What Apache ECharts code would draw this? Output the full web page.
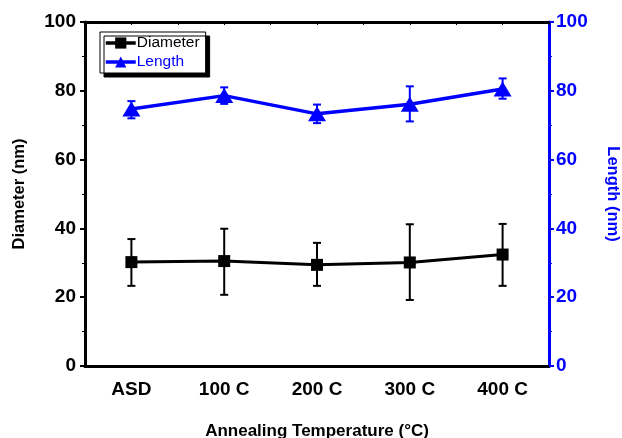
<!DOCTYPE html>
<html>
<head>
<meta charset="utf-8">
<script src="https://cdn.jsdelivr.net/npm/echarts@6/dist/echarts.min.js"></script>
<style>html,body{margin:0;padding:0;background:#fff;}#c{width:622px;height:438px;}</style>
</head>
<body>
<div id="c"></div>
<script>
var categories = ['ASD', '100 C', '200 C', '300 C', '400 C'];
var diameter = [30.2, 30.5, 29.4, 30.1, 32.4];
var diameterLow = [23.3, 20.7, 23.3, 19.2, 23.3];
var diameterHigh = [36.9, 39.9, 35.8, 41.2, 41.3];
var lengthVals = [74.7, 78.6, 73.3, 76.1, 80.5];
var lengthLow = [72.0, 76.2, 70.6, 71.1, 77.7];
var lengthHigh = [77.0, 81.0, 76.0, 81.3, 83.6];
var yTicks = [0, 20, 40, 60, 80, 100];

var BLUE = '#0000FF';
var FONT = 'Liberation Sans, Arial, sans-serif';

function errData(low, high) {
  return categories.map(function (c, i) { return [i, low[i], high[i]]; });
}
function errRender(color) {
  return function (params, api) {
    var x = api.value(0);
    var lo = api.coord([x, api.value(1)]);
    var hi = api.coord([x, api.value(2)]);
    var hw = 4;
    var st = { stroke: color, lineWidth: 2 };
    return {
      type: 'group',
      children: [
        { type: 'line', shape: { x1: lo[0], y1: lo[1], x2: hi[0], y2: hi[1] }, style: st },
        { type: 'line', shape: { x1: lo[0] - hw, y1: lo[1], x2: lo[0] + hw, y2: lo[1] }, style: st },
        { type: 'line', shape: { x1: hi[0] - hw, y1: hi[1], x2: hi[0] + hw, y2: hi[1] }, style: st }
      ]
    };
  };
}

var chart = echarts.init(document.getElementById('c'));
chart.setOption({
  backgroundColor: '#fff',
  animation: false,
  textStyle: { fontFamily: FONT },
  grid: { left: 85, right: 73, top: 22, bottom: 72, containLabel: false, outerBoundsMode: 'none' },
  legend: {
    orient: 'vertical',
    left: 100, top: 32,
    padding: [3, 6, 3, 4],
    itemGap: 3,
    itemWidth: 30, itemHeight: 14,
    backgroundColor: '#fff',
    borderColor: '#000', borderWidth: 1,
    shadowColor: '#000', shadowBlur: 0, shadowOffsetX: 4, shadowOffsetY: 4,
    lineStyle: { width: 3.5 },
    data: [
      { name: 'Diameter', textStyle: { color: '#000' } },
      { name: 'Length', textStyle: { color: BLUE } }
    ],
    textStyle: { fontSize: 15.5, fontFamily: FONT, padding: [0, 0, 0, -4] }
  },
  xAxis: [
    {
      type: 'category', data: categories, position: 'bottom',
      boundaryGap: true,
      axisLine: { onZero: false, lineStyle: { color: '#000', width: 3 } },
      axisTick: { alignWithLabel: true, length: 5, lineStyle: { width: 2, color: '#000' } },
      axisLabel: { color: '#000', fontWeight: 'bold', fontSize: 19, margin: 14, fontFamily: FONT },
      name: 'Annealing Temperature (\u00B0C)',
      nameLocation: 'middle', nameGap: 57,
      nameTextStyle: { color: '#000', fontWeight: 'bold', fontSize: 17, fontFamily: FONT },
      splitLine: { show: false }
    },
    {
      type: 'value', position: 'top', min: -0.5, max: 4.5, interval: 0.5,
      axisLine: { show: true, onZero: false, lineStyle: { color: '#000', width: 3 } },
      axisTick: { show: true, inside: true, length: 3, lineStyle: { width: 1, color: '#000' } },
      axisLabel: { show: false },
      splitLine: { show: false }
    }
  ],
  yAxis: [
    {
      type: 'value', min: 0, max: 100, interval: 20, position: 'left',
      axisLine: { show: true, onZero: false, lineStyle: { color: '#000', width: 3 } },
      axisTick: { show: true, length: 5, lineStyle: { width: 2, color: '#000' } },
      minorTick: { show: true, splitNumber: 2, length: 3, lineStyle: { color: '#000', width: 1 } },
      axisLabel: { color: '#000', fontWeight: 'bold', fontSize: 19, margin: 9, fontFamily: FONT },
      splitLine: { show: false },
      name: 'Diameter (nm)', nameLocation: 'middle', nameGap: 57,
      nameTextStyle: { color: '#000', fontWeight: 'bold', fontSize: 16.5, fontFamily: FONT }
    },
    {
      type: 'value', min: 0, max: 100, interval: 20, position: 'right',
      axisLine: { show: true, onZero: false, lineStyle: { color: BLUE, width: 3 } },
      axisTick: { show: true, length: 5, lineStyle: { width: 2, color: BLUE } },
      minorTick: { show: true, splitNumber: 2, length: 3, lineStyle: { color: BLUE, width: 1 } },
      axisLabel: { color: BLUE, fontWeight: 'bold', fontSize: 19, margin: 7, fontFamily: FONT },
      splitLine: { show: false },
      name: 'Length (nm)', nameLocation: 'middle', nameGap: 55, nameRotate: -90,
      nameTextStyle: { color: BLUE, fontWeight: 'bold', fontSize: 16.5, fontFamily: FONT }
    }
  ],
  series: [
    {
      name: 'DiameterErr', type: 'custom', xAxisIndex: 0, yAxisIndex: 0,
      renderItem: errRender('#000'), data: errData(diameterLow, diameterHigh), z: 1, silent: true
    },
    {
      name: 'LengthErr', type: 'custom', xAxisIndex: 0, yAxisIndex: 1,
      renderItem: errRender(BLUE), data: errData(lengthLow, lengthHigh), z: 1, silent: true
    },
    {
      name: 'Diameter', type: 'line', xAxisIndex: 0, yAxisIndex: 0, data: diameter,
      symbol: 'rect', symbolSize: 12,
      lineStyle: { color: '#000', width: 3 }, itemStyle: { color: '#000' }, z: 3
    },
    {
      name: 'Length', type: 'line', xAxisIndex: 0, yAxisIndex: 1, data: lengthVals,
      symbol: 'triangle', symbolSize: [18, 15],
      lineStyle: { color: BLUE, width: 3.5 }, itemStyle: { color: BLUE }, z: 3
    }
  ]
});
</script>
</body>
</html>
